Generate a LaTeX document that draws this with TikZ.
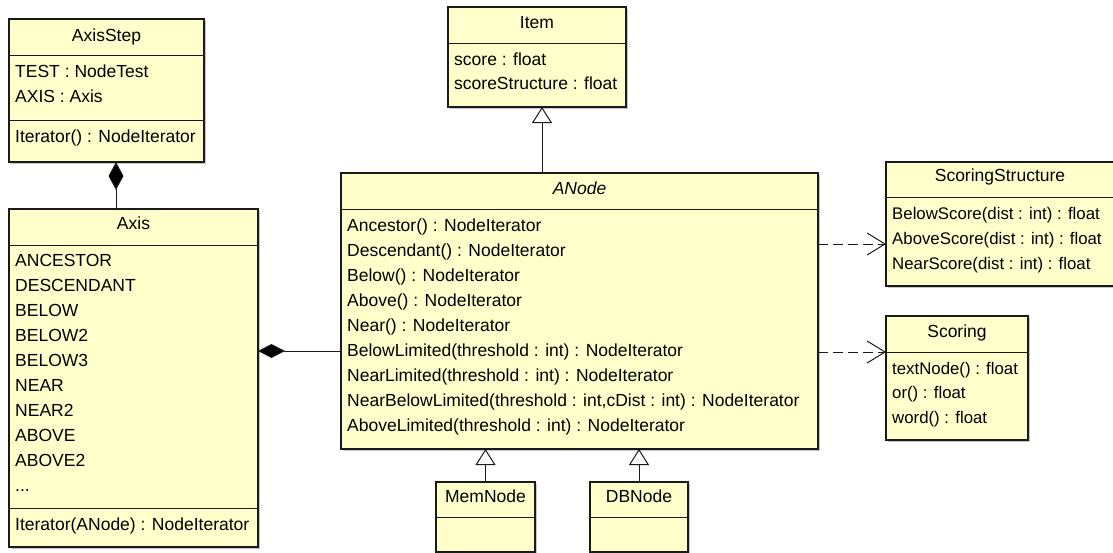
\documentclass[tikz,border=0pt]{standalone}
\usepackage{fontspec}
\setmainfont{Liberation Sans}
\usetikzlibrary{arrows.meta,shadows}
\definecolor{classfill}{HTML}{FFFFCC}
\definecolor{lineink}{HTML}{1A1A1A}

\begin{document}
\begin{tikzpicture}[x=1pt,y=-1pt,
  classbox/.style={draw=lineink, line width=1.3pt, fill=classfill, rectangle,
    anchor=north west, inner sep=0pt, outer sep=0pt,
    drop shadow={shadow xshift=2pt, shadow yshift=-2pt, fill=black, opacity=0.22}},
  sepline/.style={draw=lineink, line width=1pt},
  member/.style={anchor=base west, inner sep=0pt, text=black,
    font=\fontsize{17.5}{20}\selectfont},
  smallmember/.style={member, font=\fontsize{16.8}{20}\selectfont},
  classtitle/.style={anchor=base, inner sep=0pt, text=black,
    font=\fontsize{17.5}{20}\selectfont},
  link/.style={draw=lineink, line width=1pt},
  composition/.style={link, {Diamond[length=28pt, width=15pt, fill=black]}-},
  inheritance/.style={link, -{Triangle[open, length=16pt, width=20pt, fill=white]}},
  dependency/.style={link, dash pattern=on 10pt off 5pt,
    -{Straight Barb[length=18pt, width=22pt]}}
]
\useasboundingbox (0,0) rectangle (1113,552);

% ---------- class boxes ----------
\node[classbox, minimum width=195, minimum height=143] (axisstep) at (9,19) {};
\node[classbox, minimum width=249, minimum height=338] (axis) at (9,209) {};
\node[classbox, minimum width=178, minimum height=100] (item) at (448,7) {};
\node[classbox, minimum width=477, minimum height=276] (anode) at (341,173) {};
\node[classbox, minimum width=99, minimum height=70] (memnode) at (436,482) {};
\node[classbox, minimum width=98, minimum height=70] (dbnode) at (590,482) {};
\node[classbox, minimum width=228, minimum height=124] (scoringstructure) at (886,162) {};
\node[classbox, minimum width=142, minimum height=124] (scoring) at (886,316) {};

% ---------- compartment separators ----------
\draw[sepline] (axisstep.west |- 0,55) -- (axisstep.east |- 0,55);
\draw[sepline] (axisstep.west |- 0,120) -- (axisstep.east |- 0,120);
\draw[sepline] (axis.west |- 0,245) -- (axis.east |- 0,245);
\draw[sepline] (axis.west |- 0,508) -- (axis.east |- 0,508);
\draw[sepline] (item.west |- 0,43) -- (item.east |- 0,43);
\draw[sepline] (anode.west |- 0,209) -- (anode.east |- 0,209);
\draw[sepline] (memnode.west |- 0,517) -- (memnode.east |- 0,517);
\draw[sepline] (dbnode.west |- 0,517) -- (dbnode.east |- 0,517);
\draw[sepline] (scoringstructure.west |- 0,197) -- (scoringstructure.east |- 0,197);
\draw[sepline] (scoring.west |- 0,352) -- (scoring.east |- 0,352);

% ---------- AxisStep ----------
\node[classtitle] (axissteptitle) at (106.5,41) {AxisStep};
\node[member] (axissteptest) at (15,77) {TEST : NodeTest};
\node[member] (axisstepaxis) at (15,102) {AXIS : Axis};
\node[member] (axissteipit) at (15,142) {Iterator() : NodeIterator};

% ---------- Axis ----------
\node[classtitle] (axistitle) at (133.5,229) {Axis};
\node[member] (ax1) at (15,266) {ANCESTOR};
\node[member] (ax2) at (15,291) {DESCENDANT};
\node[member] (ax3) at (15,316) {BELOW};
\node[member] (ax4) at (15,341) {BELOW2};
\node[member] (ax5) at (15,366) {BELOW3};
\node[member] (ax6) at (15,391) {NEAR};
\node[member] (ax7) at (15,416) {NEAR2};
\node[member] (ax8) at (15,441) {ABOVE};
\node[member] (ax9) at (15,466) {ABOVE2};
\node[member] (ax10) at (15,491) {...};
\node[member] (axit) at (15,530) {Iterator(ANode) : NodeIterator};

% ---------- Item ----------
\node[classtitle] (itemtitle) at (537,28) {Item};
\node[member] (itemscore) at (454,65) {score : float};
\node[member] (itemstruct) at (454,89) {scoreStructure : float};

% ---------- ANode ----------
\node[classtitle, font=\fontsize{17.5}{20}\selectfont\itshape] (anodetitle) at (579.5,194) {ANode};
\node[member] (an1) at (347,231) {Ancestor() : NodeIterator};
\node[member] (an2) at (347,256) {Descendant() : NodeIterator};
\node[member] (an3) at (347,281) {Below() : NodeIterator};
\node[member] (an4) at (347,306) {Above() : NodeIterator};
\node[member] (an5) at (347,331) {Near() : NodeIterator};
\node[member] (an6) at (347,356) {BelowLimited(threshold : int) : NodeIterator};
\node[member] (an7) at (347,381) {NearLimited(threshold : int) : NodeIterator};
\node[member] (an8) at (347,406) {NearBelowLimited(threshold : int,cDist : int) : NodeIterator};
\node[member] (an9) at (347,431) {AboveLimited(threshold : int) : NodeIterator};

% ---------- MemNode / DBNode ----------
\node[classtitle] (memtitle) at (485.5,502) {MemNode};
\node[classtitle] (dbtitle) at (639,502) {DBNode};

% ---------- ScoringStructure ----------
\node[classtitle] (sstitle) at (1000,181) {ScoringStructure};
\node[smallmember] (ss1) at (892,219) {BelowScore(dist : int) : float};
\node[smallmember] (ss2) at (892,244) {AboveScore(dist : int) : float};
\node[smallmember] (ss3) at (892,269) {NearScore(dist : int) : float};

% ---------- Scoring ----------
\node[classtitle] (sctitle) at (957,337) {Scoring};
\node[smallmember] (sc1) at (892,374) {textNode() : float};
\node[smallmember] (sc2) at (892,398) {or() : float};
\node[smallmember] (sc3) at (892,423) {word() : float};

% ---------- relations ----------
\draw[composition] (axisstep.south -| 116,0) -- (axis.north -| 116,0);
\draw[composition, {Diamond[length=27pt, width=14pt, fill=black]}-] (axis.east |- 0,351) -- (anode.west |- 0,351);
\draw[inheritance] (anode.north -| 542,0) -- (item.south -| 542,0);
\draw[inheritance] (memnode.north) -- (anode.south -| memnode.north);
\draw[inheritance] (dbnode.north) -- (anode.south -| dbnode.north);
\draw[dependency] (anode.east |- 0,244) -- (scoringstructure.west |- 0,244);
\draw[dependency] (anode.east |- 0,352) -- (scoring.west |- 0,352);
\end{tikzpicture}
\end{document}
